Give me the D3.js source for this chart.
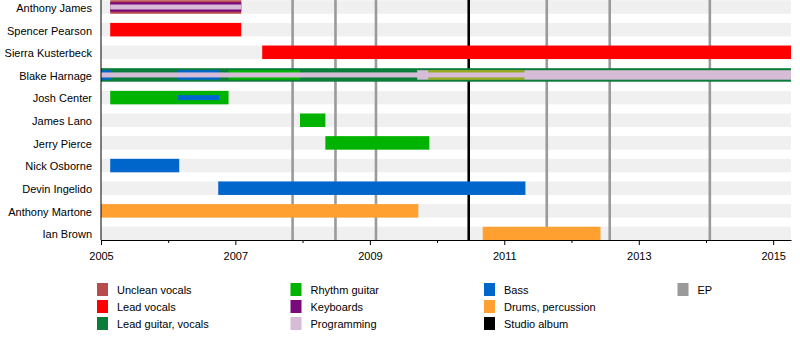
<!DOCTYPE html>
<html>
<head>
<meta charset="utf-8">
<script src="https://cdn.jsdelivr.net/npm/d3@7"></script>
<style>
  html, body { margin: 0; padding: 0; background: #fff; }
  svg { display: block; font-family: "Liberation Sans", Arial, sans-serif; }
</style>
</head>
<body>
<svg id="chart" width="800" height="340"></svg>
<script>
// Band members, top to bottom
const members = [
  "Anthony James", "Spencer Pearson", "Sierra Kusterbeck", "Blake Harnage",
  "Josh Center", "James Lano", "Jerry Pierce", "Nick Osborne",
  "Devin Ingelido", "Anthony Martone", "Ian Brown"
];

// Roles and their colours (legend order, column by column)
const roles = [
  "Unclean vocals", "Lead vocals", "Lead guitar, vocals",
  "Rhythm guitar", "Keyboards", "Programming",
  "Bass", "Drums, percussion", "Studio album", "EP"
];
const roleColors = [
  "#b84c4c", "#ff0000", "#0a7d3b",
  "#00b300", "#7a0a7a", "#d6bcd6",
  "#0066cc", "#ffa030", "#000000", "#9a9a9a"
];

const timelineStart = "2005-01-01";
const timelineEnd = "2015-04-08";

// Membership periods: [member, role, from, to, layer]
// layer 1 = main bar, 2 = secondary role, 3 = thin inner role
const periods = [
  ["Anthony James", "Unclean vocals", "2005-02-20", "2007-02-02", 1],
  ["Anthony James", "Keyboards", "2005-02-20", "2007-02-02", 2],
  ["Anthony James", "Programming", "2005-02-20", "2007-02-02", 3],
  ["Spencer Pearson", "Lead vocals", "2005-02-20", "2007-02-02", 1],
  ["Sierra Kusterbeck", "Lead vocals", "2007-05-27", timelineEnd, 1],
  ["Blake Harnage", "Lead guitar, vocals", timelineStart, timelineEnd, 1],
  ["Blake Harnage", "Bass", timelineStart, "2005-02-24", 2],
  ["Blake Harnage", "Bass", "2006-02-23", "2006-10-05", 2],
  ["Blake Harnage", "Rhythm guitar", "2006-11-25", "2007-12-18", 2],
  ["Blake Harnage", "Programming", "2009-09-15", timelineEnd, 2],
  ["Blake Harnage", "Rhythm guitar", "2009-11-15", "2011-04-20", 2],
  ["Blake Harnage", "Drums, percussion", "2009-11-15", "2011-04-20", 2],
  ["Blake Harnage", "Programming", timelineStart, timelineEnd, 3],
  ["Josh Center", "Rhythm guitar", "2005-02-20", "2006-11-25", 1],
  ["Josh Center", "Bass", "2006-02-23", "2006-10-05", 3],
  ["James Lano", "Rhythm guitar", "2007-12-18", "2008-05-04", 1],
  ["Jerry Pierce", "Rhythm guitar", "2008-05-04", "2009-11-20", 1],
  ["Nick Osborne", "Bass", "2005-02-20", "2006-03-02", 1],
  ["Devin Ingelido", "Bass", "2006-09-30", "2011-04-26", 1],
  ["Anthony Martone", "Drums, percussion", timelineStart, "2009-09-21", 1],
  ["Ian Brown", "Drums, percussion", "2010-09-06", "2012-06-07", 1]
];

// Releases
const eps = ["2007-11-08", "2008-06-28", "2009-02-03", "2011-08-20", "2012-07-27", "2014-01-22"];
const studioAlbums = ["2010-06-22"];

const parse = d3.timeParse("%Y-%m-%d");
const color = d3.scaleOrdinal().domain(roles).range(roleColors);

const svg = d3.select("#chart");
const plotTop = 0, plotBottom = 240, plotLeft = 101, plotRight = 791;

const x = d3.scaleTime()
  .domain([parse(timelineStart), parse(timelineEnd)])
  .range([plotLeft, plotRight]);

const y = d3.scalePoint()
  .domain(members)
  .range([7, 233.5]);

const layerHeight = { 1: 13.5, 2: 9.5, 3: 5 };

// light background stripes behind each member row
svg.append("g").selectAll("rect")
  .data(members)
  .join("rect")
  .attr("x", plotLeft)
  .attr("y", d => y(d) - layerHeight[1] / 2)
  .attr("width", plotRight - plotLeft)
  .attr("height", layerHeight[1])
  .attr("fill", "#f0f0f0");

// release markers
const releases = eps.map(d => ({ date: d, role: "EP" }))
  .concat(studioAlbums.map(d => ({ date: d, role: "Studio album" })));
svg.append("g").selectAll("line")
  .data(releases)
  .join("line")
  .attr("x1", d => x(parse(d.date)))
  .attr("x2", d => x(parse(d.date)))
  .attr("y1", plotTop)
  .attr("y2", plotBottom)
  .attr("stroke", d => color(d.role))
  .attr("stroke-width", 2.6);

// member bars; overlapping drums on Blake's row are blended with the guitar under it
svg.append("g").selectAll("rect")
  .data(periods)
  .join("rect")
  .attr("x", d => x(parse(d[2])))
  .attr("width", d => x(parse(d[3])) - x(parse(d[2])))
  .attr("y", d => y(d[0]) - layerHeight[d[4]] / 2)
  .attr("height", d => layerHeight[d[4]])
  .attr("fill", d => color(d[1]))
  .attr("fill-opacity", d => (d[0] === "Blake Harnage" && d[1] === "Drums, percussion") ? 0.6 : 1);

// member names
svg.append("g").selectAll("text")
  .data(members)
  .join("text")
  .attr("x", 92)
  .attr("y", d => y(d) + 1)
  .attr("dy", "0.35em")
  .attr("text-anchor", "end")
  .attr("font-size", 11)
  .attr("fill", "#000")
  .text(d => d);

// time axis
const axis = d3.axisBottom(x)
  .ticks(d3.timeYear.every(1))
  .tickSizeOuter(0)
  .tickFormat(d => d.getFullYear() % 2 === 1 ? d3.timeFormat("%Y")(d) : "");
const gx = svg.append("g")
  .attr("transform", `translate(0,${plotBottom})`)
  .call(axis);
gx.select(".domain").attr("stroke", "#000");
gx.selectAll(".tick line")
  .attr("stroke", "#000")
  .attr("y2", d => d.getFullYear() % 2 === 1 ? 5 : 3);
gx.selectAll(".tick text")
  .attr("font-size", 11)
  .attr("font-family", "'Liberation Sans', Arial, sans-serif")
  .attr("fill", "#000")
  .attr("y", 12);

// left edge of the plot
svg.append("line")
  .attr("x1", plotLeft).attr("x2", plotLeft)
  .attr("y1", plotTop).attr("y2", plotBottom)
  .attr("stroke", "#000");

// legend, three entries per column
const legend = svg.append("g").selectAll("g")
  .data(roles)
  .join("g")
  .attr("transform", (d, i) => `translate(${97 + Math.floor(i / 3) * 193.5},${283 + (i % 3) * 17})`);
legend.append("rect")
  .attr("width", 11)
  .attr("height", 13)
  .attr("fill", d => color(d));
legend.append("text")
  .attr("x", 20)
  .attr("y", 7)
  .attr("dy", "0.35em")
  .attr("font-size", 11)
  .attr("fill", "#000")
  .text(d => d);
</script>
</body>
</html>
